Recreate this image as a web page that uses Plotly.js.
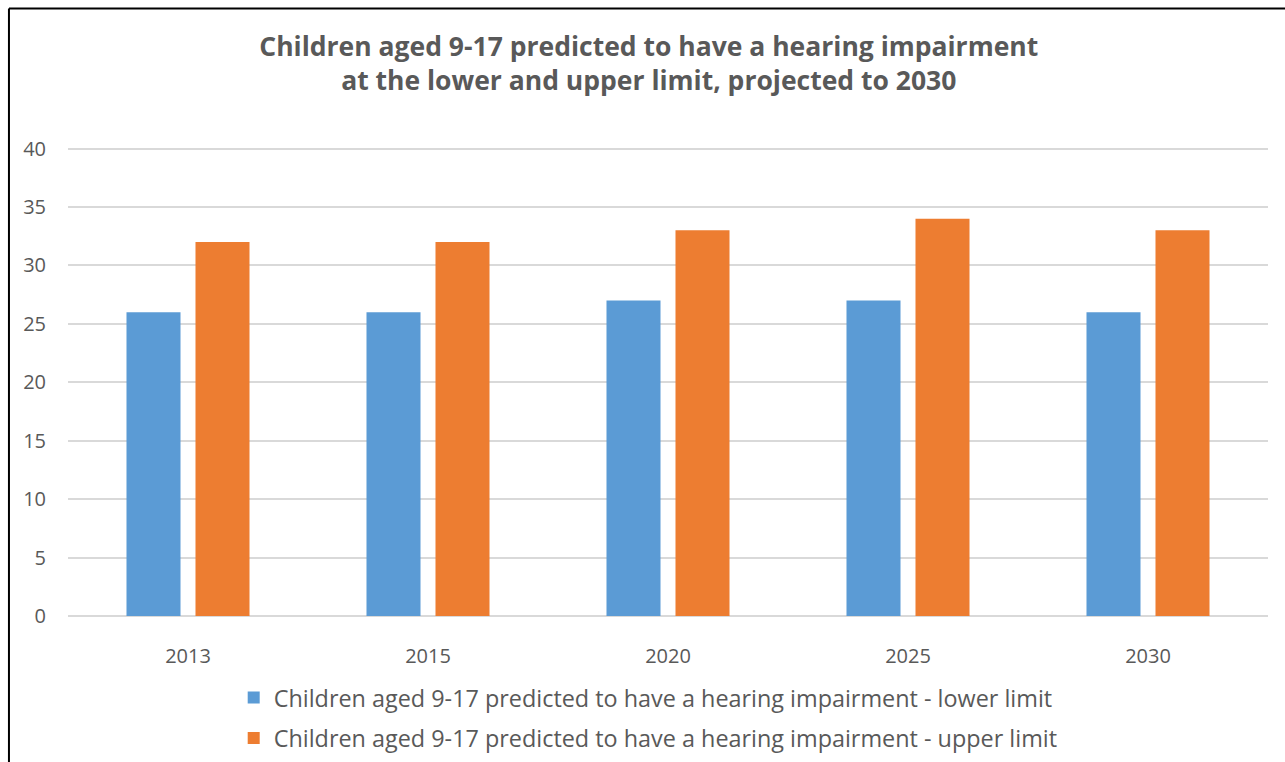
<!DOCTYPE html>
<html>
<head>
<meta charset="utf-8">
<script src="https://cdn.plot.ly/plotly-3.0.1.min.js"></script>
<style>
  html, body { margin: 0; padding: 0; background: #fff; }
  #chart { width: 1285px; height: 762px; }
</style>
</head>
<body>
<div id="chart"></div>
<script>
const years = ["2013", "2015", "2020", "2025", "2030"];
const lowerLimit = [26, 26, 27, 27, 26];
const upperLimit = [32, 32, 33, 34, 33];
const seriesNames = [
  "Children aged 9-17 predicted to have a hearing impairment - lower limit",
  "Children aged 9-17 predicted to have a hearing impairment - upper limit"
];
const titleText = "Children aged 9-17 predicted to have a hearing impairment<br>at the lower and upper limit, projected to 2030";

const fontFam = "Open Sans, sans-serif";
const textColor = "#595959";

const traces = [
  { type: "bar", x: years, y: lowerLimit, name: seriesNames[0], legendgroup: "a",
    marker: { color: "#5b9bd5" }, hoverinfo: "x+y" },
  { type: "bar", x: years, y: upperLimit, name: seriesNames[1], legendgroup: "b",
    marker: { color: "#ed7d31" }, hoverinfo: "x+y" }
];

const layout = {
  width: 1285, height: 762,
  paper_bgcolor: "#ffffff", plot_bgcolor: "#ffffff",
  margin: { l: 68, r: 17, t: 145, b: 146 },
  font: { family: fontFam, color: textColor },
  title: { text: titleText, font: { family: fontFam, size: 26.5, color: textColor, weight: "bold" },
           x: 0.484, xref: "paper", xanchor: "center", y: 0.927, yanchor: "middle" },
  barmode: "group", bargap: 0.425, bargroupgap: 0.217,
  xaxis: { type: "category", showgrid: false, showline: false, zeroline: false, tickangle: 0,
           tickfont: { size: 20, color: textColor }, ticks: "", ticklabelstandoff: 26 },
  yaxis: { range: [0, 40.3], dtick: 5, tick0: 0, showgrid: true, gridcolor: "#d9d9d9", gridwidth: 1.5,
           zeroline: true, zerolinecolor: "#d9d9d9", zerolinewidth: 1.5, showline: false,
           tickfont: { size: 20, color: textColor }, ticks: "", ticklabelstandoff: 21 },
  showlegend: true,
  legend: { orientation: "v", xref: "paper", yref: "container", x: 0.4835, xanchor: "center",
            y: 0.113, yanchor: "top",
            font: { size: 23.4, color: textColor, family: fontFam }, traceorder: "grouped",
            tracegroupgap: 7, bgcolor: "rgba(0,0,0,0)" },
  shapes: [
    { type: "line", xref: "paper", yref: "paper", x0: -0.0492, x1: 1.1, y0: 1.29, y1: 1.29,
      line: { color: "#000", width: 2 } },
    { type: "line", xref: "paper", yref: "paper", x0: -0.0492, x1: -0.0492, y0: 1.29, y1: -0.4,
      line: { color: "#000", width: 2 } }
  ]
};

Plotly.newPlot("chart", traces, layout, { displayModeBar: false });
</script>
</body>
</html>
